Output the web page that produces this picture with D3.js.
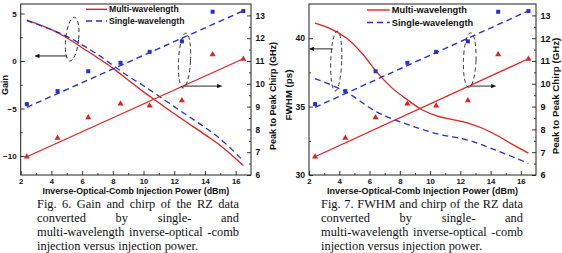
<!DOCTYPE html>
<html><head><meta charset="utf-8">
<script src="https://cdn.jsdelivr.net/npm/d3@7"></script>
<style>
html,body{margin:0;padding:0;background:#fff;overflow:hidden}
svg{display:block}
text{font-family:"Liberation Sans",Arial,sans-serif;font-weight:bold;fill:#111}
text.cap{font-family:"Liberation Serif","Times New Roman",serif;font-weight:normal;fill:#111}
</style></head><body>
<svg id="c" width="562" height="253"></svg>
<script>
// ---------- data ----------
const chirpPower   = [2.4, 4.4, 6.4, 8.5, 10.4, 12.5, 14.5, 16.5];
const multiChirp   = [6.8, 7.62, 8.52, 9.13, 9.04, 9.27, 11.28, 11.09];
const singleChirp  = [9.11, 9.68, 10.55, 10.92, 11.4, 11.86, 13.16, 13.19];
const fitPower     = [2.4, 16.5];
const multiChirpFit  = [6.8, 11.1];
const singleChirpFit = [8.97, 13.2];

const gainPower  = [2.4, 4, 5, 6, 7, 8, 9, 10, 11, 12, 13, 14, 15, 16.5];
const multiGain  = [4.3, 3.3, 2.45, 1.4, 0.35, -0.75, -2.0, -3.25, -4.4, -5.55, -6.65, -7.75, -8.9, -11.0];
const singleGain = [4.25, 3.3, 2.6, 1.7, 0.7, -0.45, -1.6, -2.6, -3.7, -4.8, -5.9, -7.0, -8.2, -10.5];

const fwhmPowerMulti  = [2.4, 3.5, 4.5, 5.5, 6.5, 7.5, 8.5, 9.5, 10.5, 11.5, 12.5, 13.5, 14.5, 15.5, 16.5];
const multiFwhm       = [41.1, 40.65, 40.0, 38.9, 37.5, 36.35, 35.5, 34.75, 34.3, 34.05, 33.8, 33.4, 32.85, 32.2, 31.6];
const fwhmPowerSingle = [2.4, 4.4, 6.5, 8.5, 10.5, 12.5, 14.5, 16.5];
const singleFwhm      = [37.05, 36.1, 34.6, 33.7, 33.0, 32.55, 31.75, 30.85];

const xTicks      = [2, 4, 6, 8, 10, 12, 14, 16];
const xMinorTicks = [3, 5, 7, 9, 11, 13, 15];
const chirpTicks  = [6, 7, 8, 9, 10, 11, 12, 13];
const chirpMinor  = [6.5, 7.5, 8.5, 9.5, 10.5, 11.5, 12.5];
const gainTicks   = [-10, -5, 0, 5];
const gainMinor   = [-7.5, -2.5, 2.5];
const fwhmTicks   = [30, 35, 40];
const fwhmMinor   = [32.5, 37.5];

const xTitle      = "Inverse-Optical-Comb Injection Power (dBm)";
const chirpTitle  = "Peak to Peak Chirp (GHz)";
const legendLabels = ["Multi-wavelength", "Single-wavelength"];
const caption6 = ["Fig. 6. Gain and chirp of the RZ data", "converted by single- and",
                  "multi-wavelength inverse-optical -comb", "injection versus injection power."];
const caption7 = ["Fig. 7. FWHM and chirp of the RZ data", "converted by single- and",
                  "multi-wavelength inverse-optical -comb", "injection versus injection power."];

// ---------- drawing ----------
const RED = "#e3211f", BLUE = "#2230d6";
const svg = d3.select("#c");
const defs = svg.append("defs");
defs.append("marker").attr("id", "ah").attr("viewBox", "0 0 6 6")
  .attr("refX", 6).attr("refY", 3).attr("markerWidth", 5).attr("markerHeight", 4.5)
  .attr("markerUnits", "userSpaceOnUse").attr("orient", "auto")
  .append("path").attr("d", "M0,0L6,3L0,6Z").attr("fill", "#111");

const panels = [
  { left: 20.7, right: 251, top: 4, bottom: 175, k: 1, xfs: 7.6, xpad: 4, xtfs: 8.8,
    yDomain: [-12, 6], yTicks: gainTicks, yMinor: gainMinor, yTitle: "Gain",
    yTitleX: 8, yTitleY: 85, chirpTitleX: 276, xTitleY: 194,
    curves: [ {x: gainPower, y: multiGain, c: RED, dash: null},
              {x: gainPower, y: singleGain, c: BLUE, dash: "6,4"} ],
    legX: 86, legY: [9.3, 21],
    ell: [ {cx: 5.35, cy: 2.3, rx: 6.5, ry: 22, rot: 6, axis: "L"},
           {cx: 12.67, cy: 11.02, rx: 6, ry: 27.5, rot: 3, axis: "R"} ],
    arr: [ {x1: 5.02, x2: 2.93, y: 0.53, axis: "L"},
           {x1: 12.59, x2: 15.09, y: 9.9, axis: "R"} ],
    caption: caption6, capX: 37, capW: 202 },
  { left: 309, right: 536, top: 4, bottom: 175, k: 1.08, xfs: 7.8, xpad: 3.4, xtfs: 9.0,
    yDomain: [30, 42.5], yTicks: fwhmTicks, yMinor: fwhmMinor, yTitle: "FWHM (ps)",
    yTitleX: 292, yTitleY: 95, chirpTitleX: 559, xTitleY: 194,
    curves: [ {x: fwhmPowerMulti, y: multiFwhm, c: RED, dash: null},
              {x: fwhmPowerSingle, y: singleFwhm, c: BLUE, dash: "6,4"} ],
    legX: 367, legY: [10, 22.5],
    ell: [ {cx: 3.8, cy: 38.33, rx: 5.5, ry: 30, rot: 2, axis: "L"},
           {cx: 12.62, cy: 11.04, rx: 6.3, ry: 27.3, rot: 2, axis: "R"} ],
    arr: [ {x1: 3.57, x2: 2.03, y: 39.22, axis: "L"},
           {x1: 12.64, x2: 14.33, y: 9.9, axis: "R"} ],
    caption: caption7, capX: 321, capW: 202 }
];

function styleAxis(g) {
  g.select(".domain").remove();
  g.selectAll(".tick line").attr("stroke", "#222").attr("stroke-width", 0.9);
}

panels.forEach(p => {
  const g = svg.append("g");
  const x = d3.scaleLinear().domain([2, 17]).range([p.left, p.right]);
  const yL = d3.scaleLinear().domain(p.yDomain).range([p.bottom, p.top]);
  const yR = d3.scaleLinear().domain([6, 13.5]).range([p.bottom, p.top]);
  const tfs = 8 * p.k;

  // axes
  const ax = g.append("g").attr("transform", `translate(0,${p.bottom})`)
    .call(d3.axisBottom(x).tickValues(xTicks).tickSize(-4).tickPadding(p.xpad)).call(styleAxis);
  ax.selectAll("text").attr("font-size", p.xfs).attr("font-family", null).attr("fill", "#111");
  g.append("g").attr("transform", `translate(0,${p.bottom})`)
    .call(d3.axisBottom(x).tickValues(xMinorTicks).tickSize(-2).tickFormat("")).call(styleAxis);

  const al = g.append("g").attr("transform", `translate(${p.left},0)`)
    .call(d3.axisLeft(yL).tickValues(p.yTicks).tickSize(-4).tickPadding(4)).call(styleAxis);
  al.selectAll("text").attr("font-size", tfs).attr("font-family", null).attr("fill", "#111");
  g.append("g").attr("transform", `translate(${p.left},0)`)
    .call(d3.axisLeft(yL).tickValues(p.yMinor).tickSize(-2).tickFormat("")).call(styleAxis);

  const ar = g.append("g").attr("transform", `translate(${p.right},0)`)
    .call(d3.axisRight(yR).tickValues(chirpTicks).tickSize(-4).tickPadding(4.5)).call(styleAxis);
  ar.selectAll("text").attr("font-size", tfs * 1.05).attr("font-family", null).attr("fill", "#111");
  g.append("g").attr("transform", `translate(${p.right},0)`)
    .call(d3.axisRight(yR).tickValues(chirpMinor).tickSize(-2).tickFormat("")).call(styleAxis);

  // frame
  g.append("rect").attr("x", p.left).attr("y", p.top)
    .attr("width", p.right - p.left).attr("height", p.bottom - p.top)
    .attr("fill", "none").attr("stroke", "#222").attr("stroke-width", 1);

  // titles
  g.append("text").attr("x", (p.left + p.right) / 2).attr("y", p.xTitleY)
    .attr("text-anchor", "middle").attr("font-size", p.xtfs).text(xTitle);
  g.append("text").attr("transform", `translate(${p.yTitleX},${p.yTitleY}) rotate(-90)`)
    .attr("text-anchor", "middle").attr("font-size", 9 * p.k).text(p.yTitle);
  g.append("text").attr("transform", `translate(${p.chirpTitleX},96) rotate(-90)`)
    .attr("text-anchor", "middle").attr("font-size", 9 * p.k).text(chirpTitle);

  // curves (left axis)
  const line = d3.line().curve(d3.curveCatmullRom.alpha(0.5));
  p.curves.forEach(cv => {
    g.append("path").attr("d", line(cv.x.map((v, i) => [x(v), yL(cv.y[i])])))
      .attr("fill", "none").attr("stroke", cv.c).attr("stroke-width", 1.3)
      .attr("stroke-dasharray", cv.dash);
  });
  // chirp fits (right axis)
  g.append("path").attr("d", d3.line()(fitPower.map((v, i) => [x(v), yR(multiChirpFit[i])])))
    .attr("fill", "none").attr("stroke", RED).attr("stroke-width", 1.3);
  g.append("path").attr("d", d3.line()(fitPower.map((v, i) => [x(v), yR(singleChirpFit[i])])))
    .attr("fill", "none").attr("stroke", BLUE).attr("stroke-width", 1.4).attr("stroke-dasharray", "6,4");

  // markers
  const tri = d3.symbol().type(d3.symbolTriangle).size(16);
  g.selectAll(null).data(chirpPower).join("path")
    .attr("d", tri).attr("transform", (d, i) => `translate(${x(d)},${yR(multiChirp[i])})`)
    .attr("fill", RED);
  g.selectAll(null).data(chirpPower).join("rect")
    .attr("x", d => x(d) - 2).attr("y", (d, i) => yR(singleChirp[i]) - 2)
    .attr("width", 4).attr("height", 4).attr("fill", BLUE);

  // ellipses & arrows
  p.ell.forEach(e => {
    const yy = e.axis === "L" ? yL : yR;
    g.append("ellipse").attr("cx", 0).attr("cy", 0).attr("rx", e.rx).attr("ry", e.ry)
      .attr("transform", `translate(${x(e.cx)},${yy(e.cy)}) rotate(${e.rot})`)
      .attr("fill", "none").attr("stroke", "#222").attr("stroke-width", 0.9)
      .attr("stroke-dasharray", "4,3");
  });
  p.arr.forEach(a => {
    const yy = a.axis === "L" ? yL : yR;
    g.append("line").attr("x1", x(a.x1)).attr("x2", x(a.x2))
      .attr("y1", yy(a.y)).attr("y2", yy(a.y))
      .attr("stroke", "#111").attr("stroke-width", 0.9).attr("marker-end", "url(#ah)");
  });

  // legend
  const lfs = 8.6 * p.k;
  legendLabels.forEach((lab, i) => {
    const ly = p.legY[i];
    g.append("line").attr("x1", p.legX).attr("x2", p.legX + 21 * p.k).attr("y1", ly).attr("y2", ly)
      .attr("stroke", i === 0 ? RED : BLUE).attr("stroke-width", 1.4)
      .attr("stroke-dasharray", i === 0 ? null : "6,4");
    g.append("text").attr("x", p.legX + 23 * p.k).attr("y", ly + 3.1 * p.k)
      .attr("font-size", lfs).text(lab);
  });

  // caption (justified)
  const cfs = 12.4, lh = 14;
  p.caption.forEach((ln, li) => {
    const y0 = 207.6 + li * lh;
    if (li === p.caption.length - 1) {
      svg.append("text").attr("class", "cap").attr("x", p.capX).attr("y", y0)
        .attr("font-size", cfs).text(ln);
      return;
    }
    const words = ln.split(" ");
    const nodes = words.map(w => svg.append("text").attr("class", "cap")
      .attr("y", y0).attr("font-size", cfs).text(w));
    const widths = nodes.map(n => n.node().getComputedTextLength());
    const total = d3.sum(widths);
    const gap = Math.max(2, (p.capW - total) / (words.length - 1));
    let cx = p.capX;
    nodes.forEach((n, i) => { n.attr("x", cx); cx += widths[i] + gap; });
  });
});
</script>
</body></html>
